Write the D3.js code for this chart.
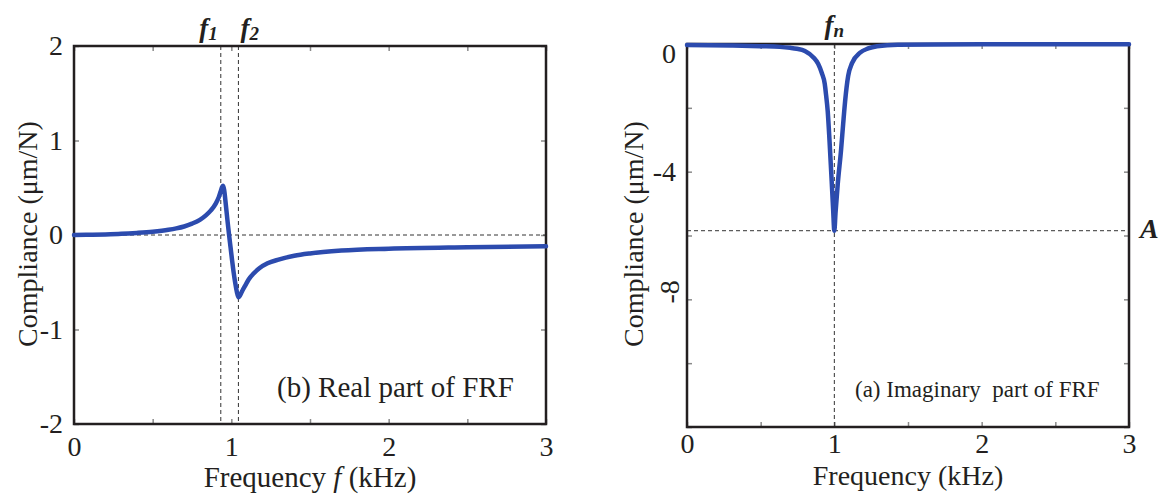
<!DOCTYPE html>
<html>
<head>
<meta charset="utf-8">
<script src="https://cdn.jsdelivr.net/npm/d3@7"></script>
<style>
  body { margin: 0; background: #fff; }
  svg { display: block; }
  svg text { font-family: "Liberation Serif", "Times New Roman", serif !important; fill: #231f20; }
</style>
</head>
<body>
<svg id="fig" width="1160" height="495"></svg>
<script>
// ---- data ----
const freqTicks = [0, 0.5, 1, 1.5, 2, 2.5, 3];
const freqLabelled = [0, 1, 2, 3];
const realTicks = [-2, -1, 0, 1, 2];
const imagTicks = [-12, -10, -8, -6, -4, -2, 0];
const imagLabelled = [0, -4, -8];

// real part of the FRF (kHz, µm/N)
const realFreq = [0, 0.1, 0.2, 0.3, 0.4, 0.5, 0.6, 0.65, 0.7, 0.75, 0.8, 0.84, 0.87, 0.9, 0.92, 0.932, 0.942, 0.948,
  0.955, 0.965, 0.975, 0.985, 0.995, 1.005, 1.015, 1.025, 1.035, 1.045, 1.055, 1.07, 1.09, 1.11, 1.14, 1.18,
  1.23, 1.3, 1.4, 1.5, 1.7, 2.0, 2.5, 3.0];
const realVal = [0, 0.002, 0.006, 0.012, 0.022, 0.035, 0.055, 0.07, 0.09, 0.12, 0.16, 0.21, 0.26, 0.33, 0.40, 0.46, 0.51, 0.52,
  0.47, 0.32, 0.16, 0.01, -0.13, -0.27, -0.40, -0.51, -0.60, -0.66, -0.64, -0.59, -0.53, -0.47, -0.41, -0.35,
  -0.30, -0.26, -0.22, -0.195, -0.165, -0.145, -0.13, -0.12];

// imaginary part of the FRF (kHz, µm/N)
const imagFreq = [0, 0.3, 0.5, 0.63, 0.7, 0.745, 0.8, 0.86, 0.89, 0.915, 0.935, 0.944, 0.955, 0.967, 0.982, 0.992, 1.0,
  1.008, 1.023, 1.046, 1.06, 1.073, 1.094, 1.12, 1.175, 1.23, 1.29, 1.43, 2.0, 3.0];
const imagVal = [-0.03, -0.05, -0.07, -0.09, -0.12, -0.15, -0.22, -0.43, -0.62, -0.91, -1.25, -1.6, -2.1, -3.0, -4.3, -5.2, -5.85,
  -5.3, -4.4, -3.3, -2.5, -1.8, -1.0, -0.6, -0.27, -0.14, -0.07, -0.02, -0.01, -0.01];

// marker frequencies / levels
const f1 = 0.933, f2 = 1.045, fn = 1.0, levelA = -5.85;

// ---- drawing ----
const svg = d3.select("#fig");
const ink = "#231f20", blue = "#2c4bae";

function panel(opt) {
  const x = d3.scaleLinear().domain([0, 3]).range([opt.left, opt.right]);
  const y = d3.scaleLinear().domain(opt.yDomain).range([opt.bottom, opt.top]);
  const g = svg.append("g");

  // inward tick marks on all four sides
  const tickStyle = sel => {
    sel.attr("font-family", null).attr("font-size", null);
    sel.select(".domain").remove();
    sel.selectAll(".tick line").attr("stroke", "#8a8a8a").attr("stroke-width", 1.5);
  };
  const fmtX = d => freqLabelled.includes(d) ? d3.format("d")(d) : "";
  const fmtY = d => opt.yLabelled.includes(d) ? d3.format("d")(d).replace("−", "-") : "";

  const xb = g.append("g").attr("transform", `translate(0,${opt.bottom})`)
    .call(d3.axisBottom(x).tickValues(freqTicks).tickSizeInner(-5).tickSizeOuter(0).tickPadding(opt.xPad).tickFormat(fmtX));
  tickStyle(xb);
  xb.selectAll(".tick text").attr("font-size", 28).attr("fill", ink);

  const xt = g.append("g").attr("transform", `translate(0,${opt.top})`)
    .call(d3.axisTop(x).tickValues(freqTicks).tickSizeInner(-5).tickSizeOuter(0).tickFormat(""));
  tickStyle(xt);

  const yl = g.append("g").attr("transform", `translate(${opt.left},0)`)
    .call(d3.axisLeft(y).tickValues(opt.yTicks).tickSizeInner(-5).tickSizeOuter(0).tickPadding(11).tickFormat(fmtY));
  tickStyle(yl);
  yl.selectAll(".tick text").attr("font-size", 28).attr("fill", ink);

  const yr = g.append("g").attr("transform", `translate(${opt.right},0)`)
    .call(d3.axisRight(y).tickValues(opt.yTicks).tickSizeInner(-5).tickSizeOuter(0).tickFormat(""));
  tickStyle(yr);

  // reference dashed lines
  const dash = g.append("g").attr("stroke", "#333").attr("stroke-width", 1).attr("stroke-dasharray", "4,3").attr("fill", "none");
  opt.vLines.forEach(v => dash.append("line").attr("x1", x(v)).attr("x2", x(v)).attr("y1", opt.top).attr("y2", opt.bottom));
  opt.hLines.forEach(v => dash.append("line").attr("x1", opt.left).attr("x2", opt.right).attr("y1", y(v)).attr("y2", y(v)));

  // frame
  g.append("rect").attr("x", opt.left).attr("y", opt.top)
    .attr("width", opt.right - opt.left).attr("height", opt.bottom - opt.top)
    .attr("fill", "none").attr("stroke", ink).attr("stroke-width", 2.5);

  // FRF curve
  const pts = opt.freq.map((f, i) => [f, opt.val[i]]);
  g.append("path").datum(pts)
    .attr("fill", "none").attr("stroke", blue).attr("stroke-width", 4.5)
    .attr("stroke-linejoin", "round").attr("stroke-linecap", "round")
    .attr("d", d3.line().x(d => x(d[0])).y(d => y(d[1])).curve(d3.curveMonotoneX));

  return { g, x, y, yl };
}

// ---------- left: real part ----------
const L = panel({
  left: 74, right: 546, top: 46, bottom: 424, xPad: 12,
  yDomain: [-2, 2], yTicks: realTicks, yLabelled: realTicks,
  vLines: [f1, f2], hLines: [0],
  freq: realFreq, val: realVal
});

// f1, f2 markers
function fLabel(g, xPos, baseY, sub, anchor) {
  const t = g.append("text").attr("x", xPos).attr("y", baseY)
    .attr("font-weight", "bold").attr("font-style", "italic").attr("font-size", 27)
    .attr("text-anchor", anchor);
  t.append("tspan").text("f");
  t.append("tspan").attr("font-size", 19).attr("dy", 3).text(sub);
}
fLabel(L.g, L.x(f1) - 3, 37, "1", "end");
fLabel(L.g, L.x(f2) + 2, 37, "2", "start");

L.g.append("text").attr("x", 277).attr("y", 397).attr("font-size", 29).text("(b) Real part of FRF");

L.g.append("text").attr("transform", `translate(37,234) rotate(-90)`).attr("text-anchor", "middle")
  .attr("font-size", 28).text("Compliance (μm/N)");

const xtL = L.g.append("text").attr("x", L.x(1.5)).attr("y", 487).attr("text-anchor", "middle").attr("font-size", 29);
xtL.append("tspan").text("Frequency ");
xtL.append("tspan").attr("font-style", "italic").text("f");
xtL.append("tspan").text(" (kHz)");

// ---------- right: imaginary part ----------
const R = panel({
  left: 687, right: 1129, top: 44, bottom: 427, xPad: 6,
  yDomain: [-12, 0], yTicks: imagTicks, yLabelled: imagLabelled,
  vLines: [fn], hLines: [levelA],
  freq: imagFreq, val: imagVal
});

// tweak the "0" and "-8" labels on this axis
R.yl.selectAll(".tick").filter(d => d === 0).select("text").attr("dy", "0.65em");
R.yl.selectAll(".tick").filter(d => d === -8).select("text")
  .attr("text-anchor", "middle").attr("x", 0).attr("dy", 0)
  .attr("transform", `translate(-18,-8) rotate(-90)`).attr("dominant-baseline", "central");

fLabel(R.g, R.x(fn), 34, "n", "middle");

R.g.append("text").attr("x", 1140).attr("y", 238)
  .attr("font-weight", "bold").attr("font-style", "italic").attr("font-size", 28).text("A");

R.g.append("text").attr("x", 855).attr("y", 397).attr("font-size", 23).text("(a) Imaginary  part of FRF")
  .style("white-space", "pre");

R.g.append("text").attr("transform", `translate(643,234) rotate(-90)`).attr("text-anchor", "middle")
  .attr("font-size", 28).text("Compliance (μm/N)");

R.g.append("text").attr("x", R.x(1.5)).attr("y", 485).attr("text-anchor", "middle").attr("font-size", 28)
  .text("Frequency (kHz)");
</script>
</body>
</html>
